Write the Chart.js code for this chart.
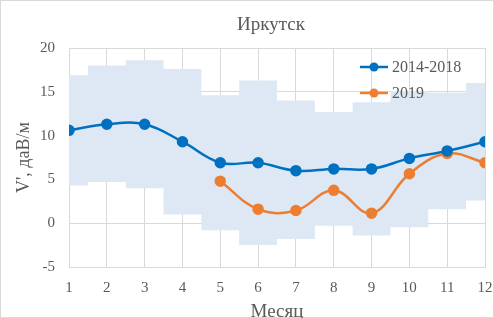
<!DOCTYPE html>
<html>
<head>
<meta charset="utf-8">
<script src="https://cdn.jsdelivr.net/npm/chart.js@4"></script>
<style>
  html, body { margin: 0; padding: 0; background: #fff; }
  #wrap { width: 494px; height: 318px; }
</style>
</head>
<body>
<div id="wrap"><canvas id="chart" width="494" height="318"></canvas></div>
<script>
// data
const months = [1, 2, 3, 4, 5, 6, 7, 8, 9, 10, 11, 12];
const bandLow = [4.3, 4.7, 4.0, 1.0, -0.8, -2.5, -1.8, -0.3, -1.4, -0.45, 1.6, 2.6];
const bandHigh = [16.9, 18.0, 18.6, 17.6, 14.6, 16.3, 14.0, 12.7, 13.8, 15.1, 14.9, 16.0];
const mean1418 = [10.6, 11.3, 11.3, 9.3, 6.9, 6.9, 6.0, 6.2, 6.2, 7.4, 8.25, 9.3];
const year2019 = [null, null, null, null, 4.8, 1.6, 1.45, 3.75, 1.15, 5.65, 7.95, 6.9];
const yTicks = [-5, 0, 5, 10, 15, 20];

const FONT = "'Liberation Serif', 'Times New Roman', serif";
const TXT = "#595959";

const pts = (vals) => months.map((m, i) => ({ x: m, y: vals[i] }));

// white background, frame, title and legend inside the plot
const decor = {
  id: "decor",
  beforeDraw(chart) {
    const c = chart.ctx;
    c.save();
    c.fillStyle = "#fff";
    c.fillRect(0, 0, chart.width, chart.height);
    c.strokeStyle = "#d9d9d9";
    c.lineWidth = 1;
    c.strokeRect(0.5, 0.5, chart.width - 1, chart.height - 1);
    c.restore();
  },
  afterDraw(chart) {
    const c = chart.ctx;
    c.save();
    c.fillStyle = TXT;
    c.font = "19px " + FONT;
    c.textAlign = "center";
    c.textBaseline = "middle";
    c.fillText("Иркутск", 271, 25);

    const items = chart.data.datasets.filter(d => d.inLegend);
    items.forEach((d, i) => {
      const y = 67 + i * 26;
      c.strokeStyle = d.borderColor;
      c.lineWidth = 2.5;
      c.beginPath();
      c.moveTo(360, y);
      c.lineTo(388, y);
      c.stroke();
      c.fillStyle = d.borderColor;
      c.beginPath();
      c.arc(374, y, 4.5, 0, Math.PI * 2);
      c.fill();
      c.fillStyle = TXT;
      c.font = "16px " + FONT;
      c.textAlign = "left";
      c.fillText(d.label, 392, y + 1);
    });
    c.restore();
  }
};

new Chart(document.getElementById("chart"), {
  type: "line",
  data: {
    datasets: [
      {
        label: "2014-2018",
        inLegend: true,
        data: pts(mean1418),
        borderColor: "#0070C0",
        backgroundColor: "#0070C0",
        borderWidth: 2.5,
        pointRadius: 4.5,
        tension: 0.4,
        order: 0
      },
      {
        label: "2019",
        inLegend: true,
        data: pts(year2019),
        borderColor: "#ED7D31",
        backgroundColor: "#ED7D31",
        borderWidth: 2.5,
        pointRadius: 4.5,
        tension: 0.4,
        spanGaps: false,
        order: 1
      },
      {
        label: "min",
        data: pts(bandLow),
        stepped: "middle",
        borderWidth: 0,
        borderColor: "rgba(0,0,0,0)",
        pointRadius: 0,
        fill: false,
        order: 5
      },
      {
        label: "max",
        data: pts(bandHigh),
        stepped: "middle",
        borderWidth: 0,
        borderColor: "rgba(0,0,0,0)",
        pointRadius: 0,
        backgroundColor: "#DDE8F4",
        fill: "-1",
        order: 4
      }
    ]
  },
  options: {
    responsive: false,
    animation: false,
    layout: { padding: { top: 48, right: 9, left: 0, bottom: 0 } },
    plugins: {
      legend: { display: false },
      title: { display: false },
      tooltip: { enabled: false }
    },
    scales: {
      x: {
        type: "linear",
        min: 1,
        max: 12,
        afterBuildTicks: (s) => { s.ticks = months.map(v => ({ value: v })); },
        afterFit: (s) => { s.height = 51; s.paddingLeft = 0; s.paddingRight = 0; },
        grid: { color: "#d9d9d9", drawTicks: false },
        border: { color: "#d9d9d9" },
        ticks: { color: TXT, font: { family: FONT, size: 15 }, padding: 12, maxRotation: 0 },
        title: {
          display: true,
          text: "Месяц",
          color: TXT,
          font: { family: FONT, size: 19 },
          padding: { top: 0, bottom: -5 }
        }
      },
      y: {
        min: -5,
        max: 20,
        afterBuildTicks: (s) => { s.ticks = yTicks.map(v => ({ value: v })); },
        afterFit: (s) => { s.width = 69; },
        grid: { color: "#d9d9d9", drawTicks: false },
        border: { display: false },
        ticks: { color: TXT, font: { family: FONT, size: 15 }, padding: 14 },
        title: {
          display: true,
          text: "V', даВ/м",
          color: TXT,
          font: { family: FONT, size: 18 },
          padding: { top: 13, bottom: 0 }
        }
      }
    }
  },
  plugins: [decor]
});
</script>
</body>
</html>
